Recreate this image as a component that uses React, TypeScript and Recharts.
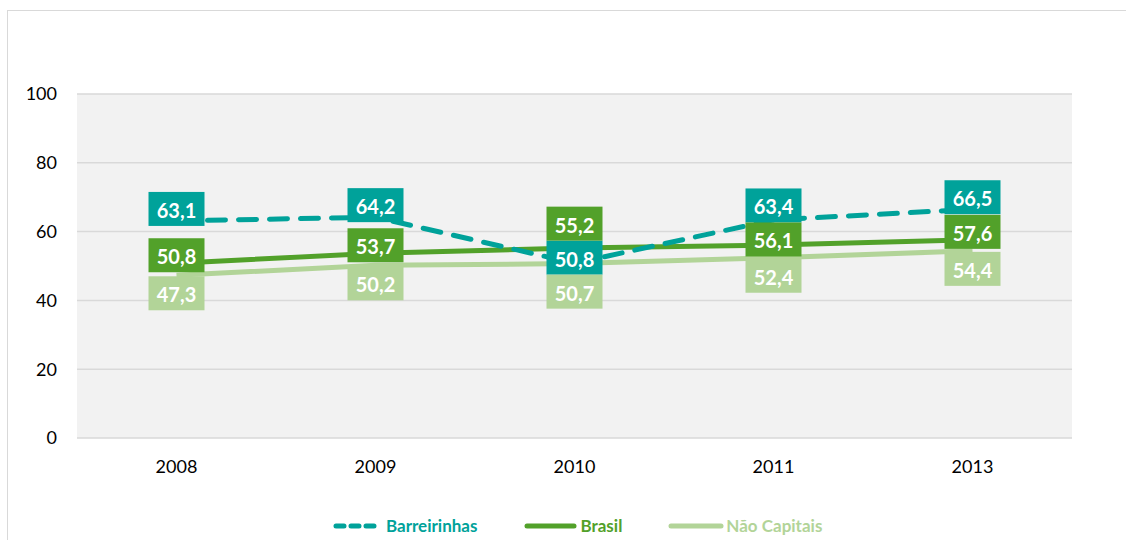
import { LineChart, Line, XAxis, YAxis, CartesianGrid, LabelList } from 'recharts'

const years = ['2008', '2009', '2010', '2011', '2013']
const barreirinhas = [63.1, 64.2, 50.8, 63.4, 66.5]
const brasil = [50.8, 53.7, 55.2, 56.1, 57.6]
const naoCapitais = [47.3, 50.2, 50.7, 52.4, 54.4]
const yTicks = [0, 20, 40, 60, 80, 100]

const TEAL = '#00a29a'
const GREEN = '#52a12a'
const LIGHT = '#b2d498'
const FONT = 'Lato, "Noto Sans", sans-serif'

const SERIES = [
  { key: 'barreirinhas', name: 'Barreirinhas', color: TEAL, values: barreirinhas },
  { key: 'brasil', name: 'Brasil', color: GREEN, values: brasil },
  { key: 'naoCapitais', name: 'Não Capitais', color: LIGHT, values: naoCapitais },
]

const data = years.map((year, i) => ({
  year,
  barreirinhas: barreirinhas[i],
  brasil: brasil[i],
  naoCapitais: naoCapitais[i],
}))

const W = 1110
const H = 528
const MARGIN = { top: 83, right: 46, left: 0, bottom: 61 }
const X_AXIS_H = 40
const PLOT_H = H - MARGIN.top - MARGIN.bottom - X_AXIS_H
const PX = PLOT_H / 100

const BOX_W = 56
const BOX_H = 34
const BIAS = [-12, -8, 18]

// stack the three value boxes of one year so they don't overlap
function boxOffsets(index: number): Record<string, number> {
  const items = SERIES.map((s) => ({ key: s.key, y: (100 - s.values[index]) * PX }))
  items.sort((a, b) => a.y - b.y)
  const c = items.map((it, r) => it.y + BIAS[r])
  for (let n = 0; n < 40; n++) {
    for (let i = 0; i < c.length - 1; i++) {
      const gap = c[i + 1] - c[i]
      if (gap < BOX_H) {
        const d = (BOX_H - gap) / 2
        c[i] -= d
        c[i + 1] += d
      }
    }
  }
  const out: Record<string, number> = {}
  items.forEach((it, r) => { out[it.key] = c[r] - it.y })
  return out
}

function makeLabel(key: string, color: string) {
  return (props: any) => {
    const { x, y, value, index } = props
    if (x == null || y == null) return null
    const cy = y + boxOffsets(index)[key]
    return (
      <g>
        <rect x={x - BOX_W / 2} y={cy - BOX_H / 2} width={BOX_W} height={BOX_H} fill={color} />
        <text
          x={x}
          y={cy + 1}
          textAnchor="middle"
          dominantBaseline="central"
          fill="#fff"
          fontFamily={FONT}
          fontWeight={700}
          fontSize={20}
        >
          {String(value).replace('.', ',')}
        </text>
      </g>
    )
  }
}

function LegendItem({ name, color, dashed, swatch, gap }: { name: string; color: string; dashed?: boolean; swatch: number; gap: number }) {
  return (
    <div style={{ display: 'flex', alignItems: 'center' }}>
      <svg width={swatch} height={10} style={{ marginRight: gap }}>
        <line
          x1={3}
          y1={5}
          x2={swatch - 3}
          y2={5}
          stroke={color}
          strokeWidth={5}
          strokeLinecap="round"
          strokeDasharray={dashed ? '8 7' : undefined}
        />
      </svg>
      <span style={{ color, fontFamily: FONT, fontWeight: 700, fontSize: 17 }}>{name}</span>
    </div>
  )
}

export default function App() {
  return (
    <div
      style={{
        position: 'absolute',
        left: 7,
        top: 10,
        width: 1140,
        height: 560,
        border: '1px solid #d9d9d9',
        background: '#fff',
      }}
    >
      <LineChart width={W} height={H} data={data} margin={MARGIN}>
        <CartesianGrid vertical={false} stroke="#d9d9d9" strokeWidth={1.5} fill="#f2f2f2" />
        <XAxis
          dataKey="year"
          scale="band"
          height={X_AXIS_H}
          axisLine={false}
          tickLine={false}
          tickSize={0}
          tickMargin={22}
          tick={{ fontSize: 18, fill: '#000', fontFamily: FONT }}
        />
        <YAxis
          domain={[0, 100]}
          ticks={yTicks}
          width={69}
          axisLine={false}
          tickLine={false}
          tickSize={0}
          tickMargin={20}
          tick={{ fontSize: 18, fill: '#000', fontFamily: FONT }}
        />
        <Line
          dataKey="naoCapitais"
          stroke={LIGHT}
          strokeWidth={5}
          dot={false}
          activeDot={false}
          isAnimationActive={false}
        />
        <Line
          dataKey="brasil"
          stroke={GREEN}
          strokeWidth={5}
          dot={false}
          activeDot={false}
          isAnimationActive={false}
        />
        <Line
          dataKey="barreirinhas"
          stroke={TEAL}
          strokeWidth={5}
          strokeDasharray="18 13"
          strokeLinecap="round"
          dot={false}
          activeDot={false}
          isAnimationActive={false}
        />
        {/* label-only series so every box sits above all lines */}
        {SERIES.map((s) => (
          <Line
            key={'lbl-' + s.key}
            dataKey={s.key}
            stroke="none"
            dot={false}
            activeDot={false}
            legendType="none"
            isAnimationActive={false}
          >
            <LabelList dataKey={s.key} content={makeLabel(s.key, s.color)} />
          </Line>
        ))}
      </LineChart>
      <div style={{ position: 'absolute', left: 325, top: 504, display: 'flex', alignItems: 'center' }}>
        <div style={{ marginRight: 47 }}>
          <LegendItem name="Barreirinhas" color={TEAL} dashed swatch={46} gap={7} />
        </div>
        <div style={{ marginRight: 46 }}>
          <LegendItem name="Brasil" color={GREEN} swatch={53} gap={3} />
        </div>
        <LegendItem name="Não Capitais" color={LIGHT} swatch={56} gap={2} />
      </div>
    </div>
  )
}
